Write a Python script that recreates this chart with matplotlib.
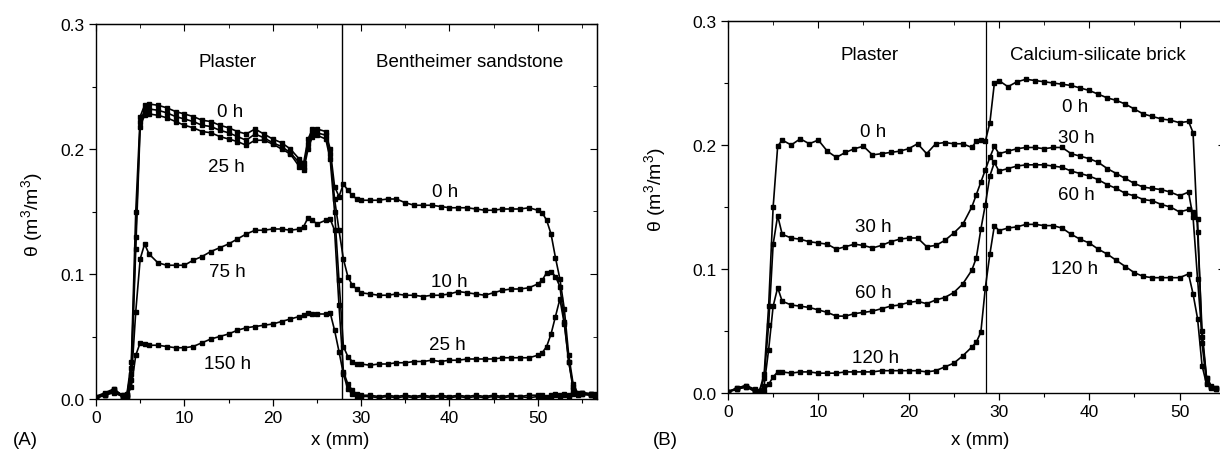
import matplotlib
matplotlib.use("Agg")
import matplotlib.pyplot as plt
from matplotlib.ticker import MultipleLocator

plt.rcParams['font.family'] = ['Liberation Sans', 'DejaVu Sans']
plt.rcParams['mathtext.fontset'] = 'custom'
plt.rcParams['mathtext.rm'] = 'Liberation Sans'
plt.rcParams['mathtext.it'] = 'Liberation Sans:italic'
plt.rcParams['mathtext.default'] = 'regular'

# ---------------- Panel A data: plaster / Bentheimer sandstone ----------------
x_A = [0, 1, 2, 3, 3.5, 4, 4.5, 5, 5.5,
       6, 7, 8, 9, 10, 11, 12, 13, 14, 15, 16, 17, 18, 19, 20, 21, 22, 23,
       23.5, 24, 24.5, 25, 26, 26.5, 27, 27.5, 28, 28.5, 29, 29.5, 30,
       31, 32, 33, 34, 35, 36, 37, 38, 39, 40, 41, 42, 43, 44, 45, 46, 47, 48, 49, 50,
       50.5, 51, 51.5, 52, 52.5, 53, 53.5, 54, 54.5, 55, 56, 56.5]

theta_A_0h = [0.002, 0.004, 0.007, 0.003, 0.004, 0.030, 0.150, 0.226, 0.235,
              0.236, 0.235, 0.233, 0.230, 0.228, 0.226, 0.223, 0.222, 0.219, 0.217, 0.214, 0.212, 0.216, 0.212, 0.208, 0.205, 0.200, 0.192,
              0.189, 0.208, 0.216, 0.216, 0.214, 0.200, 0.170, 0.162, 0.172, 0.167, 0.163, 0.160, 0.159,
              0.159, 0.159, 0.160, 0.160, 0.157, 0.155, 0.155, 0.155, 0.154, 0.153, 0.153, 0.153, 0.152, 0.151, 0.151, 0.152, 0.152, 0.152, 0.153, 0.151,
              0.149, 0.143, 0.132, 0.113, 0.096, 0.072, 0.035, 0.012, 0.005, 0.005, 0.004, 0.004]

theta_A_10h = [0.001, 0.003, 0.008, 0.003, 0.003, 0.025, 0.130, 0.222, 0.231,
               0.232, 0.231, 0.229, 0.226, 0.224, 0.222, 0.219, 0.218, 0.215, 0.213, 0.210, 0.207, 0.212, 0.209, 0.205, 0.202, 0.197, 0.189,
               0.186, 0.204, 0.213, 0.213, 0.211, 0.196, 0.160, 0.135, 0.112, 0.098, 0.091, 0.088, 0.085,
               0.084, 0.083, 0.083, 0.084, 0.083, 0.083, 0.082, 0.083, 0.083, 0.084, 0.086, 0.085, 0.084, 0.083, 0.085, 0.087, 0.088, 0.088, 0.089, 0.092,
               0.095, 0.101, 0.102, 0.098, 0.090, 0.062, 0.030, 0.008, 0.004, 0.004, 0.003, 0.003]

theta_A_25h = [0.002, 0.005, 0.008, 0.002, 0.003, 0.020, 0.120, 0.218, 0.227,
               0.228, 0.227, 0.225, 0.222, 0.219, 0.217, 0.214, 0.213, 0.210, 0.208, 0.206, 0.203, 0.207, 0.207, 0.204, 0.200, 0.196, 0.186,
               0.183, 0.200, 0.210, 0.211, 0.208, 0.192, 0.150, 0.095, 0.042, 0.034, 0.030, 0.028, 0.028,
               0.027, 0.028, 0.028, 0.029, 0.029, 0.030, 0.030, 0.031, 0.030, 0.031, 0.031, 0.032, 0.032, 0.032, 0.032, 0.033, 0.033, 0.033, 0.033, 0.035,
               0.037, 0.042, 0.052, 0.066, 0.080, 0.060, 0.030, 0.010, 0.004, 0.005, 0.004, 0.003]

theta_A_75h = [0.001, 0.003, 0.006, 0.002, 0.002, 0.015, 0.070, 0.112, 0.124,
               0.116, 0.109, 0.107, 0.107, 0.107, 0.111, 0.114, 0.118, 0.121, 0.124, 0.128, 0.132, 0.135, 0.135, 0.136, 0.136, 0.135, 0.136,
               0.138, 0.145, 0.143, 0.140, 0.143, 0.144, 0.135, 0.075, 0.022, 0.012, 0.007, 0.004, 0.003,
               0.003, 0.002, 0.003, 0.002, 0.003, 0.002, 0.003, 0.002, 0.003, 0.002, 0.003, 0.002, 0.003, 0.002, 0.003, 0.002, 0.003, 0.002, 0.003, 0.003,
               0.003, 0.002, 0.003, 0.004, 0.003, 0.004, 0.003, 0.005, 0.004, 0.005, 0.004, 0.003]

theta_A_150h = [0.001, 0.003, 0.005, 0.002, 0.002, 0.010, 0.035, 0.045, 0.044,
                0.043, 0.043, 0.042, 0.041, 0.041, 0.042, 0.045, 0.048, 0.050, 0.052, 0.055, 0.057, 0.058, 0.059, 0.060, 0.062, 0.064, 0.066,
                0.067, 0.069, 0.068, 0.068, 0.068, 0.069, 0.055, 0.038, 0.020, 0.008, 0.004, 0.002, 0.002,
                0.002, 0.001, 0.002, 0.001, 0.002, 0.001, 0.002, 0.001, 0.002, 0.001, 0.002, 0.001, 0.002, 0.001, 0.002, 0.001, 0.002, 0.002, 0.001, 0.002,
                0.002, 0.001, 0.002, 0.003, 0.002, 0.003, 0.002, 0.004, 0.003, 0.004, 0.003, 0.002]

interface_A = 27.8

# ---------------- Panel B data: plaster / calcium-silicate brick ----------------
x_B = [0, 1, 2, 3, 3.5, 4, 4.5, 5, 5.5,
       6, 7, 8, 9, 10, 11, 12, 13, 14, 15, 16, 17, 18, 19, 20, 21, 22, 23, 24, 25, 26, 27,
       27.5, 28, 28.5, 29, 29.5, 30,
       31, 32, 33, 34, 35, 36, 37, 38, 39, 40, 41, 42, 43, 44, 45, 46, 47, 48, 49, 50, 51,
       51.5, 52, 52.5, 53, 53.5, 54]

theta_B_0h = [0.001, 0.004, 0.006, 0.003, 0.002, 0.015, 0.070, 0.150, 0.199,
              0.204, 0.200, 0.205, 0.201, 0.204, 0.195, 0.190, 0.194, 0.197, 0.199, 0.192, 0.193, 0.194, 0.195, 0.197, 0.201, 0.193, 0.201, 0.202, 0.201, 0.201, 0.198,
              0.203, 0.204, 0.203, 0.218, 0.250, 0.252,
              0.247, 0.251, 0.253, 0.252, 0.251, 0.250, 0.249, 0.248, 0.246, 0.244, 0.241, 0.238, 0.236, 0.233, 0.229, 0.225, 0.223, 0.221, 0.220, 0.218, 0.219,
              0.210, 0.130, 0.050, 0.012, 0.006, 0.004]

theta_B_30h = [0.001, 0.004, 0.006, 0.002, 0.002, 0.012, 0.055, 0.120, 0.143,
               0.128, 0.125, 0.124, 0.122, 0.121, 0.120, 0.116, 0.118, 0.120, 0.119, 0.117, 0.119, 0.122, 0.124, 0.125, 0.125, 0.118, 0.119, 0.123, 0.129, 0.136, 0.150,
               0.160, 0.170, 0.180, 0.190, 0.199, 0.193,
               0.195, 0.197, 0.198, 0.198, 0.197, 0.198, 0.198, 0.193, 0.191, 0.189, 0.186, 0.181, 0.177, 0.173, 0.169, 0.166, 0.165, 0.164, 0.162, 0.159, 0.162,
               0.142, 0.092, 0.045, 0.012, 0.005, 0.004]

theta_B_60h = [0.001, 0.003, 0.005, 0.002, 0.001, 0.006, 0.035, 0.070, 0.085,
               0.074, 0.071, 0.070, 0.069, 0.067, 0.065, 0.062, 0.062, 0.064, 0.065, 0.066, 0.068, 0.070, 0.071, 0.073, 0.074, 0.072, 0.075, 0.077, 0.081, 0.088, 0.099,
               0.109, 0.132, 0.152, 0.175, 0.186, 0.179,
               0.181, 0.183, 0.184, 0.184, 0.184, 0.183, 0.182, 0.179, 0.177, 0.175, 0.172, 0.168, 0.165, 0.161, 0.159, 0.156, 0.155, 0.152, 0.150, 0.146, 0.148,
               0.146, 0.140, 0.040, 0.008, 0.005, 0.003]

theta_B_120h = [0.001, 0.003, 0.005, 0.001, 0.001, 0.002, 0.007, 0.013, 0.017,
                0.017, 0.016, 0.017, 0.017, 0.016, 0.016, 0.016, 0.017, 0.017, 0.017, 0.017, 0.018, 0.018, 0.018, 0.018, 0.018, 0.017, 0.018, 0.021, 0.024, 0.030, 0.037,
                0.041, 0.049, 0.085, 0.112, 0.135, 0.131,
                0.133, 0.134, 0.136, 0.136, 0.135, 0.135, 0.133, 0.128, 0.124, 0.121, 0.116, 0.112, 0.107, 0.102, 0.097, 0.094, 0.093, 0.093, 0.093, 0.093, 0.096,
                0.080, 0.060, 0.022, 0.007, 0.004, 0.003]

interface_B = 28.6

# ---------------- Figure ----------------
W, H = 1220, 460
fig = plt.figure(figsize=(W / 100, H / 100), dpi=100)

axA = fig.add_axes([96 / W, 60 / H, 501 / W, 375 / H])
axB = fig.add_axes([728 / W, 66 / H, 55 * 9.03 / W, 372 / H])

line_kw = dict(color='black', lw=1.2, marker='s', ms=3.2, mec='black', mfc='black')

for series in (theta_A_0h, theta_A_10h, theta_A_25h, theta_A_75h, theta_A_150h):
    axA.plot(x_A, series, **line_kw)
for series in (theta_B_0h, theta_B_30h, theta_B_60h, theta_B_120h):
    axB.plot(x_B, series, **line_kw)

axA.axvline(interface_A, color='black', lw=1.0)
axB.axvline(interface_B, color='black', lw=0.9)

axA.set_xlim(0, 56.7)
axB.set_xlim(0, 55)
for ax in (axA, axB):
    ax.set_ylim(0, 0.3)
    ax.xaxis.set_major_locator(MultipleLocator(10))
    ax.xaxis.set_minor_locator(MultipleLocator(5))
    ax.yaxis.set_major_locator(MultipleLocator(0.1))
    ax.yaxis.set_minor_locator(MultipleLocator(0.05))
    ax.yaxis.set_major_formatter(plt.FuncFormatter(lambda v, p: f"{v:.1f}"))
    ax.tick_params(which='major', direction='out', length=5, width=0.9, labelsize=12.5, pad=3)
    ax.tick_params(which='minor', direction='out', length=3, width=0.8)
    for s in ax.spines.values():
        s.set_linewidth(1.0)
    sx = ax.secondary_xaxis('top')
    sx.xaxis.set_major_locator(MultipleLocator(10))
    sx.xaxis.set_minor_locator(MultipleLocator(5))
    sx.tick_params(which='both', direction='in', labeltop=False, labelbottom=False)
    sx.tick_params(which='major', length=5)
    sx.tick_params(which='minor', length=3)
    sy = ax.secondary_yaxis('right')
    sy.yaxis.set_major_locator(MultipleLocator(0.1))
    sy.yaxis.set_minor_locator(MultipleLocator(0.05))
    sy.tick_params(which='both', direction='in', labelright=False, labelleft=False)
    sy.tick_params(which='major', length=5)
    sy.tick_params(which='minor', length=3)

fs_txt = 13.5
# Panel A annotations
axA.text(14.9, 0.270, 'Plaster', ha='center', va='center', fontsize=fs_txt)
axA.text(42.3, 0.270, 'Bentheimer sandstone', ha='center', va='center', fontsize=fs_txt)
axA.text(15.2, 0.230, '0 h', ha='center', va='center', fontsize=fs_txt)
axA.text(14.8, 0.186, '25 h', ha='center', va='center', fontsize=fs_txt)
axA.text(14.9, 0.102, '75 h', ha='center', va='center', fontsize=fs_txt)
axA.text(14.9, 0.028, '150 h', ha='center', va='center', fontsize=fs_txt)
axA.text(39.5, 0.166, '0 h', ha='center', va='center', fontsize=fs_txt)
axA.text(40.0, 0.094, '10 h', ha='center', va='center', fontsize=fs_txt)
axA.text(39.8, 0.044, '25 h', ha='center', va='center', fontsize=fs_txt)

# Panel B annotations
axB.text(15.7, 0.273, 'Plaster', ha='center', va='center', fontsize=fs_txt)
axB.text(41.0, 0.273, 'Calcium-silicate brick', ha='center', va='center', fontsize=fs_txt)
axB.text(16.1, 0.211, '0 h', ha='center', va='center', fontsize=fs_txt)
axB.text(16.1, 0.134, '30 h', ha='center', va='center', fontsize=fs_txt)
axB.text(16.1, 0.081, '60 h', ha='center', va='center', fontsize=fs_txt)
axB.text(16.3, 0.029, '120 h', ha='center', va='center', fontsize=fs_txt)
axB.text(38.4, 0.231, '0 h', ha='center', va='center', fontsize=fs_txt)
axB.text(38.6, 0.206, '30 h', ha='center', va='center', fontsize=fs_txt)
axB.text(38.6, 0.160, '60 h', ha='center', va='center', fontsize=fs_txt)
axB.text(38.4, 0.100, '120 h', ha='center', va='center', fontsize=fs_txt)

# Axis labels and panel tags
ylab = 'θ (m$^{3}$/m$^{3}$)'
fig.text(340 / W, 1 - 441 / H, 'x (mm)', ha='center', va='center', fontsize=13.5)
fig.text(980 / W, 1 - 441 / H, 'x (mm)', ha='center', va='center', fontsize=13.5)
fig.text(32 / W, 1 - 215 / H, ylab, ha='center', va='center', rotation=90, fontsize=14)
fig.text(655 / W, 1 - 190 / H, ylab, ha='center', va='center', rotation=90, fontsize=14)
fig.text(25 / W, 1 - 441 / H, '(A)', ha='center', va='center', fontsize=13.5)
fig.text(665 / W, 1 - 441 / H, '(B)', ha='center', va='center', fontsize=13.5)

fig.savefig('out.png', dpi=100)
